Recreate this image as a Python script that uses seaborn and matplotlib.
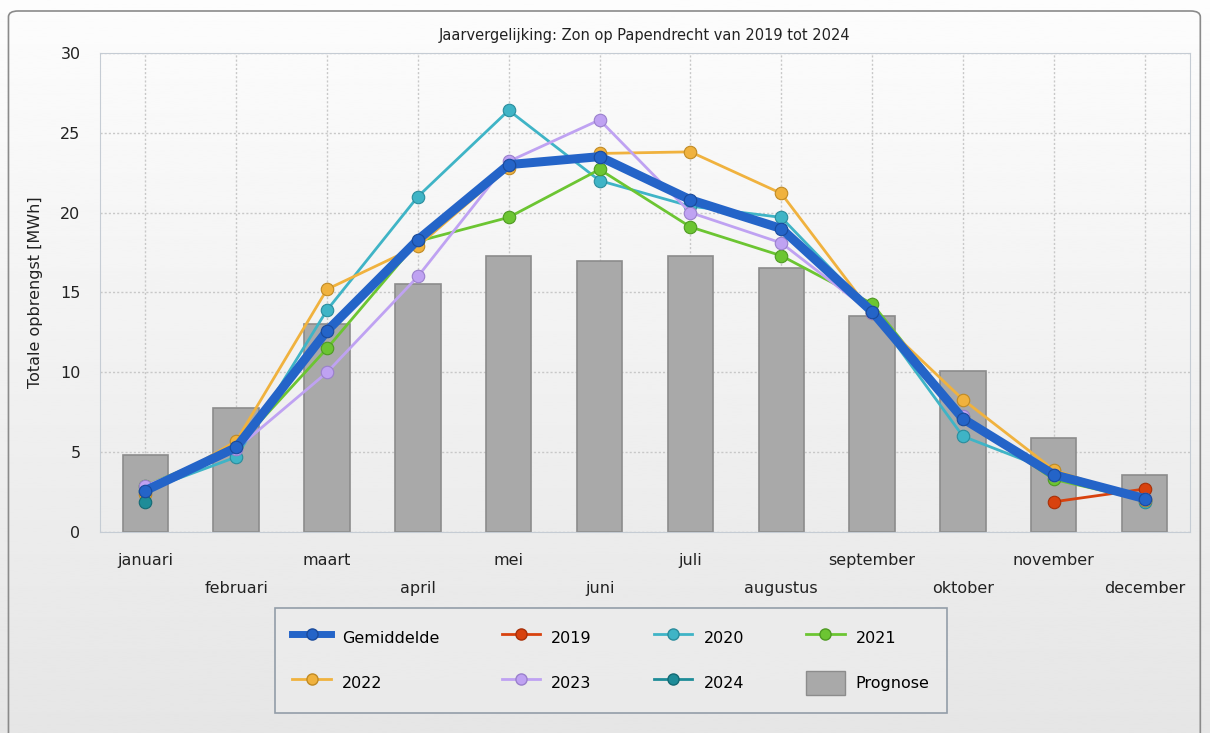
import numpy as np
import pandas as pd
import matplotlib
matplotlib.use("Agg")
import matplotlib.pyplot as plt
from matplotlib.lines import Line2D
from matplotlib.patches import Patch, FancyBboxPatch
import seaborn as sns

maanden = ['januari', 'februari', 'maart', 'april', 'mei', 'juni', 'juli',
           'augustus', 'september', 'oktober', 'november', 'december']

prognose = [4.8, 7.8, 13.0, 15.5, 17.3, 17.0, 17.3, 16.5, 13.5, 10.1, 5.9, 3.6]
gemiddelde = [2.6, 5.3, 12.6, 18.3, 23.0, 23.5, 20.8, 19.0, 13.8, 7.1, 3.6, 2.1]

j2019 = [None, None, None, None, None, None, None, None, None, None, 1.9, 2.7]
j2020 = [2.6, 4.7, 13.9, 21.0, 26.4, 22.0, 20.4, 19.7, 13.8, 6.0, 3.8, 1.9]
j2021 = [2.9, 5.3, 11.5, 18.2, 19.7, 22.7, 19.1, 17.3, 14.3, 7.2, 3.3, 2.0]
j2022 = [2.4, 5.7, 15.2, 17.9, 22.8, 23.7, 23.8, 21.2, 13.7, 8.3, 3.9, 2.0]
j2023 = [2.9, 5.2, 10.0, 16.0, 23.2, 25.8, 20.0, 18.1, 13.7, 7.3, 3.6, 2.1]
j2024 = [1.9, None, None, None, None, None, None, None, None, None, None, None]

jaren = {'2019': j2019, '2020': j2020, '2021': j2021,
         '2022': j2022, '2023': j2023, '2024': j2024}
kleuren = {'2019': '#d8420e', '2020': '#3fb4c6', '2021': '#6cc532',
           '2022': '#f0b23e', '2023': '#bfa2f2', '2024': '#1e8c98'}
randen = {'2019': '#a83008', '2020': '#2a8c9c', '2021': '#4e9a22',
          '2022': '#c08a24', '2023': '#9a80cc', '2024': '#146a74'}
blauw = '#2464c8'

fig = plt.figure(figsize=(12.1, 7.33), dpi=100)

# achtergrond met verloop
bg = fig.add_axes([0, 0, 1, 1], zorder=-5)
grad = np.linspace(0.99, 0.90, 256).reshape(-1, 1)
bg.imshow(grad, aspect='auto', cmap='gray', vmin=0, vmax=1, extent=[0, 1, 0, 1])
bg.set_axis_off()
fig.patches.append(FancyBboxPatch((0.007, -0.02), 0.985, 1.005,
                                  boxstyle="round,pad=0,rounding_size=0.008",
                                  transform=fig.transFigure, fill=False,
                                  edgecolor='#8a8a8a', linewidth=1.2))

ax = fig.add_axes([0.0826, 0.274, 0.9009, 0.654])
ax.set_facecolor('none')

df_bar = pd.DataFrame({'maand': maanden, 'prognose': prognose})
sns.barplot(data=df_bar, x='maand', y='prognose', color='#a9a9a9', width=0.5,
            saturation=1, edgecolor='#8c8c8c', linewidth=1.2, ax=ax, zorder=2)

pos = np.arange(len(maanden))
for jaar, waarden in jaren.items():
    d = pd.DataFrame({'x': pos, 'y': waarden}).dropna()
    sns.lineplot(data=d, x='x', y='y', color=kleuren[jaar], linewidth=2,
                 marker='o', markersize=9, mec=randen[jaar], mew=0.8,
                 ax=ax, zorder=3)

d = pd.DataFrame({'x': pos, 'y': gemiddelde})
sns.lineplot(data=d, x='x', y='y', color=blauw, linewidth=6.5, marker='o',
             markersize=9, mec='#1a4a9a', mew=0.8, ax=ax, zorder=4)

ax.set_xlim(-0.5, 11.5)
ax.set_ylim(0, 30)
ax.set_yticks(range(0, 31, 5))
ax.set_xticks(pos)
labels = [m if i % 2 == 0 else '\n' + m for i, m in enumerate(maanden)]
ax.set_xticklabels(labels, fontsize=11.5, color='#222222')
for t in ax.get_xticklabels():
    t.set_linespacing(2.1)
ax.tick_params(axis='both', length=0, labelsize=11.5, labelcolor='#222222')
ax.tick_params(axis='x', pad=15)
ax.tick_params(axis='y', pad=14)
ax.grid(True, color='#c8c8c8', linestyle=(0, (1.5, 1.5)), linewidth=1)
ax.set_axisbelow(True)
for s in ax.spines.values():
    s.set_color('#c5ccd4')
ax.set_xlabel('')
ax.set_ylabel('Totale opbrengst [MWh]', fontsize=11.5, color='#222222', labelpad=12)
ax.set_title('Jaarvergelijking: Zon op Papendrecht van 2019 tot 2024',
             fontsize=10.5, color='#222222', pad=9)

handles = [Line2D([], [], color=blauw, lw=5, marker='o', ms=8, mec='#1a4a9a')]
for jaar in jaren:
    handles.append(Line2D([], [], color=kleuren[jaar], lw=2, marker='o', ms=8,
                          mec=randen[jaar]))
handles.append(Patch(facecolor='#a9a9a9', edgecolor='#8c8c8c'))
namen = ['Gemiddelde'] + list(jaren) + ['Prognose']
volg = [0, 4, 1, 5, 2, 6, 3, 7]
leg = fig.legend([handles[i] for i in volg], [namen[i] for i in volg], ncol=4,
                 loc='upper center', bbox_to_anchor=(0.505, 0.171),
                 borderaxespad=0, fontsize=11.5, frameon=True, fancybox=False,
                 handlelength=2.4, handleheight=2.0, columnspacing=3.9,
                 labelspacing=1.3, borderpad=1.1, handletextpad=0.7)
leg.get_frame().set_edgecolor('#7d8a98')
leg.get_frame().set_facecolor('#ececec')
leg.get_frame().set_linewidth(1.2)

fig.savefig('out.png', dpi=100)
